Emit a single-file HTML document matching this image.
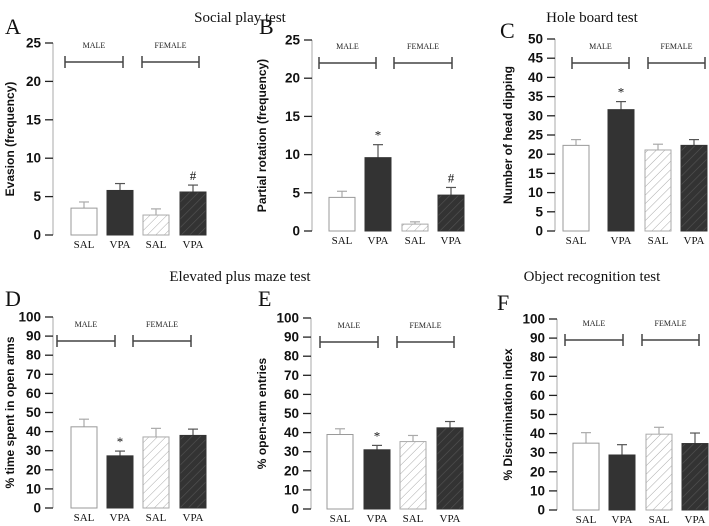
<!DOCTYPE html>
<html><head><meta charset="utf-8"><style>
body{margin:0;background:#fff;}
svg{display:block;}
.tick{font:bold 13.5px "Liberation Sans",sans-serif;fill:#111;}
.ttl{font:15px "Liberation Serif",serif;fill:#111;}
.let{font:22px "Liberation Serif",serif;fill:#111;}
.yt{font:bold 12px "Liberation Sans",sans-serif;fill:#111;}
.sex{font:8px "Liberation Serif",serif;fill:#222;}
.cat{font:11px "Liberation Serif",serif;fill:#111;}
.sig{font:13px "Liberation Serif",serif;fill:#111;}
</style></head><body>
<svg id="fig" width="709" height="526" xmlns="http://www.w3.org/2000/svg">
<defs>
<pattern id="hw" width="6" height="6" patternUnits="userSpaceOnUse" patternTransform="rotate(45)"><rect width="6" height="6" fill="#fff"/><line x1="0" y1="0" x2="0" y2="6" stroke="#aaa" stroke-width="1"/></pattern>
<pattern id="hd" width="6" height="6" patternUnits="userSpaceOnUse" patternTransform="rotate(45)"><rect width="6" height="6" fill="#333"/><line x1="0" y1="0" x2="0" y2="6" stroke="#555" stroke-width="1.2"/></pattern>
</defs>
<text class="ttl" x="240" y="22" text-anchor="middle">Social play test</text>
<text class="ttl" x="592" y="22" text-anchor="middle">Hole board test</text>
<text class="ttl" x="240" y="281" text-anchor="middle">Elevated plus maze test</text>
<text class="ttl" x="592" y="281" text-anchor="middle">Object recognition test</text>
</svg>
<script>
const categories = ["SAL","VPA","SAL","VPA"];
const valuesA = [3.5, 5.8, 2.6, 5.6];
const errorsA = [4.3, 6.7, 3.4, 6.5];
const valuesB = [4.4, 9.6, 0.9, 4.7];
const errorsB = [5.2, 11.3, 1.2, 5.7];
const valuesC = [22.3, 31.6, 21.1, 22.3];
const errorsC = [23.8, 33.7, 22.6, 23.8];
const valuesD = [42.5, 27.3, 37.2, 38.0];
const errorsD = [46.5, 29.8, 41.7, 41.3];
const valuesE = [39.0, 31.0, 35.3, 42.5];
const errorsE = [42.0, 33.3, 38.5, 45.8];
const valuesF = [35.0, 28.8, 39.7, 34.8];
const errorsF = [40.5, 34.2, 43.3, 40.3];
const marksA = ["","","","#"];
const marksB = ["","*","","#"];
const marksC = ["","*","",""];
const marksD = ["","*","",""];
const marksE = ["","*","",""];
const marksF = ["","","",""];
const ticks25 = [0,5,10,15,20,25];
const ticks50 = [0,5,10,15,20,25,30,35,40,45,50];
const ticks100 = [0,10,20,30,40,50,60,70,80,90,100];

const NS="http://www.w3.org/2000/svg";
const svg=document.getElementById('fig');
function mk(tag,attrs,parent){const e=document.createElementNS(NS,tag);for(const k in attrs)e.setAttribute(k,attrs[k]);(parent||svg).appendChild(e);return e;}

const panels=[
 {id:'a',letter:'A',lx:5,ly:34,ax:53,y0:235,yTop:43,max:25,ticks:ticks25,vals:valuesA,errs:errorsA,marks:marksA,bx:[71,107,143,180],br:[65,123,142,199],bry:62,ytx:14,ytitle:'Evasion (frequency)'},
 {id:'b',letter:'B',lx:259,ly:34,ax:312,y0:231,yTop:40,max:25,ticks:ticks25,vals:valuesB,errs:errorsB,marks:marksB,bx:[329,365,402,438],br:[319,376,394,452],bry:63,ytx:266,ytitle:'Partial rotation (frequency)'},
 {id:'c',letter:'C',lx:500,ly:38,ax:555,y0:231,yTop:39,max:50,ticks:ticks50,vals:valuesC,errs:errorsC,marks:marksC,bx:[563,608,645,681],br:[572,629,648,705],bry:63,ytx:512,ytitle:'Number of head dipping'},
 {id:'d',letter:'D',lx:5,ly:306,ax:53,y0:508,yTop:317,max:100,ticks:ticks100,vals:valuesD,errs:errorsD,marks:marksD,bx:[71,107,143,180],br:[57,115,133,191],bry:341,ytx:14,ytitle:'% time spent in open arms'},
 {id:'e',letter:'E',lx:258,ly:306,ax:311,y0:509,yTop:318,max:100,ticks:ticks100,vals:valuesE,errs:errorsE,marks:marksE,bx:[327,364,400,437],br:[320,378,397,454],bry:342,ytx:266,ytitle:'% open-arm entries'},
 {id:'f',letter:'F',lx:497,ly:310,ax:557,y0:510,yTop:319,max:100,ticks:ticks100,vals:valuesF,errs:errorsF,marks:marksF,bx:[573,609,646,682],br:[565,623,642,699],bry:340,ytx:512,ytitle:'% Discrimination index'}
];
const fills=['#fff','#333','url(#hw)','url(#hd)'];
const strokes=['#999','#333','#aaa','#333'];
const BW=26;

panels.forEach(p=>{
 const g=mk('g',{});
 
 
 const y=v=>p.y0-(v/p.max)*(p.y0-p.yTop);
 const L=mk('text',{class:'let',x:p.lx,y:p.ly},g);L.textContent=p.letter;
 
 
 const ax=mk('line',{x1:p.ax,x2:p.ax,y1:p.yTop,y2:p.y0,stroke:'#aaa','stroke-width':1},g);
 
 
 p.ticks.forEach(t=>{
  mk('line',{x1:p.ax-8,x2:p.ax,y1:y(t),y2:y(t),stroke:'#222','stroke-width':1.3},g);
  const tt=mk('text',{class:'tick',x:p.ax-12,y:y(t)+4.5,'text-anchor':'end'},g);tt.textContent=t;
  
  
 });
 const cy=(p.y0+p.yTop)/2;
 const yt=mk('text',{class:'yt',x:p.ytx,y:cy,'text-anchor':'middle',transform:`rotate(-90 ${p.ytx} ${cy})`},g);
 yt.textContent=p.ytitle;
 
 
 [[p.br[0],p.br[1],'MALE'],[p.br[2],p.br[3],'FEMALE']].forEach(b=>{
  const bg=mk('g',{stroke:'#444','stroke-width':1.5},g);
  
  
  mk('line',{x1:b[0],x2:b[1],y1:p.bry,y2:p.bry},bg);
  mk('line',{x1:b[0],x2:b[0],y1:p.bry-6,y2:p.bry+6},bg);
  mk('line',{x1:b[1],x2:b[1],y1:p.bry-6,y2:p.bry+6},bg);
  const st=mk('text',{class:'sex',x:(b[0]+b[1])/2,y:p.bry-14,'text-anchor':'middle'},g);st.textContent=b[2];
  
  
 });
 p.vals.forEach((v,i)=>{
  const x=p.bx[i],cx=x+BW/2;
  const e=p.errs[i];
  const ec=strokes[i]==='#333'?'#555':'#aaa';
  mk('line',{x1:cx,x2:cx,y1:y(v),y2:y(e),stroke:ec,'stroke-width':1.2},g);
  mk('line',{x1:cx-5,x2:cx+5,y1:y(e),y2:y(e),stroke:ec,'stroke-width':1.2},g);
  const r=mk('rect',{x:x,y:y(v),width:BW,height:p.y0-y(v),fill:fills[i],stroke:strokes[i],'stroke-width':1},g);
  
  
  const c=mk('text',{class:'cat',x:cx,y:p.y0+13,'text-anchor':'middle'},g);c.textContent=categories[i];
  
  
  if(p.marks[i]){
   const m=mk('text',{class:'sig',x:cx,y:y(e)-5,'text-anchor':'middle'},g);m.textContent=p.marks[i];
   
   
  }
 });
});
</script>
</body></html>
